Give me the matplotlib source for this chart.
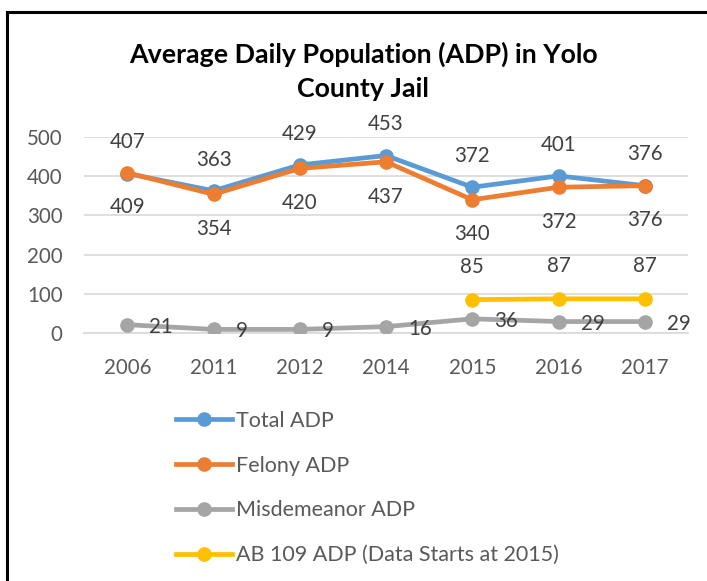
import numpy as np
import matplotlib
matplotlib.use("Agg")
from matplotlib import pyplot as plt
from matplotlib.lines import Line2D

years = ["2006", "2011", "2012", "2014", "2015", "2016", "2017"]
total_adp = [407, 363, 429, 453, 372, 401, 376]
felony_adp = [409, 354, 420, 437, 340, 372, 376]
misdemeanor_adp = [21, 9, 9, 16, 36, 29, 29]
ab109_years = ["2015", "2016", "2017"]
ab109_adp = [85, 87, 87]

series_names = ["Total ADP", "Felony ADP", "Misdemeanor ADP",
                "AB 109 ADP (Data Starts at 2015)"]
colors = ["#5B9BD5", "#ED7D31", "#A5A5A5", "#FFC000"]

plt.rcParams['font.family'] = ['Lato', 'DejaVu Sans']
label_color = "#404040"
tick_color = "#595959"

fig = plt.figure(figsize=(7.07, 5.81), dpi=100)
ax = fig.add_axes([0.119, 0.427, 0.854, 0.337])

x = np.arange(len(years))
x_ab = [years.index(y) for y in ab109_years]

lw = 3.4
ms = 9.5
ax.plot(x, total_adp, "-o", color=colors[0], lw=lw, ms=ms, zorder=3)
ax.plot(x, felony_adp, "-o", color=colors[1], lw=lw, ms=ms, zorder=4)
ax.plot(x, misdemeanor_adp, "-o", color=colors[2], lw=lw, ms=ms, zorder=3)
ax.plot(x_ab, ab109_adp, "-o", color=colors[3], lw=lw, ms=ms, zorder=3)

fs = 14.8
# data labels, placed like the Excel defaults (above / below / right)
for xi, v in zip(x, total_adp):
    ax.annotate(str(v), (xi, v), xytext=(0, 22.5), textcoords="offset points",
                ha="center", va="center", fontsize=fs, color=label_color)
for xi, v in zip(x, felony_adp):
    ax.annotate(str(v), (xi, v), xytext=(0, -25), textcoords="offset points",
                ha="center", va="center", fontsize=fs, color=label_color)
for xi, v in zip(x, misdemeanor_adp):
    ax.annotate(str(v), (xi, v), xytext=(16, -1.5), textcoords="offset points",
                ha="left", va="center", fontsize=fs, color=label_color)
for xi, v in zip(x_ab, ab109_adp):
    ax.annotate(str(v), (xi, v), xytext=(0, 23.5), textcoords="offset points",
                ha="center", va="center", fontsize=fs, color=label_color)

ax.set_xlim(-0.5, len(years) - 0.5)
ax.set_ylim(0, 500)
ax.set_yticks(np.arange(0, 501, 100))
ax.set_xticks(x)
ax.set_xticklabels(years)
ax.tick_params(axis="both", length=0, labelsize=fs, labelcolor=tick_color)
ax.tick_params(axis="y", pad=15.5)
ax.tick_params(axis="x", pad=18)
ax.grid(axis="y", color="#D9D9D9", lw=1.2, zorder=0)
ax.set_axisbelow(True)
for side in ["top", "right", "left"]:
    ax.spines[side].set_visible(False)
ax.spines["bottom"].set_color("#D9D9D9")
ax.spines["bottom"].set_linewidth(1.2)

fig.text(0.514, 0.907, "Average Daily Population (ADP) in Yolo",
         ha="center", va="center", fontsize=19.3, fontweight="bold", color="black")
fig.text(0.514, 0.847, "County Jail",
         ha="center", va="center", fontsize=19.3, fontweight="bold", color="black")

handles = [Line2D([], [], color=c, lw=lw, marker="o", ms=ms) for c in colors]
fig.legend(handles, series_names, loc="upper left",
           bbox_to_anchor=(0.249, 0.293), frameon=False, fontsize=15.5,
           labelspacing=1.15, handlelength=2.6, handletextpad=0.19,
           labelcolor=tick_color, borderaxespad=0, borderpad=0)

# frame lines on left and top only
fig.add_artist(Line2D([0.010, 0.010], [0.0, 0.979], color="black", lw=2.2))
fig.add_artist(Line2D([0.010, 1.0], [0.979, 0.979], color="black", lw=2.2))

fig.savefig("out.png", dpi=100)
